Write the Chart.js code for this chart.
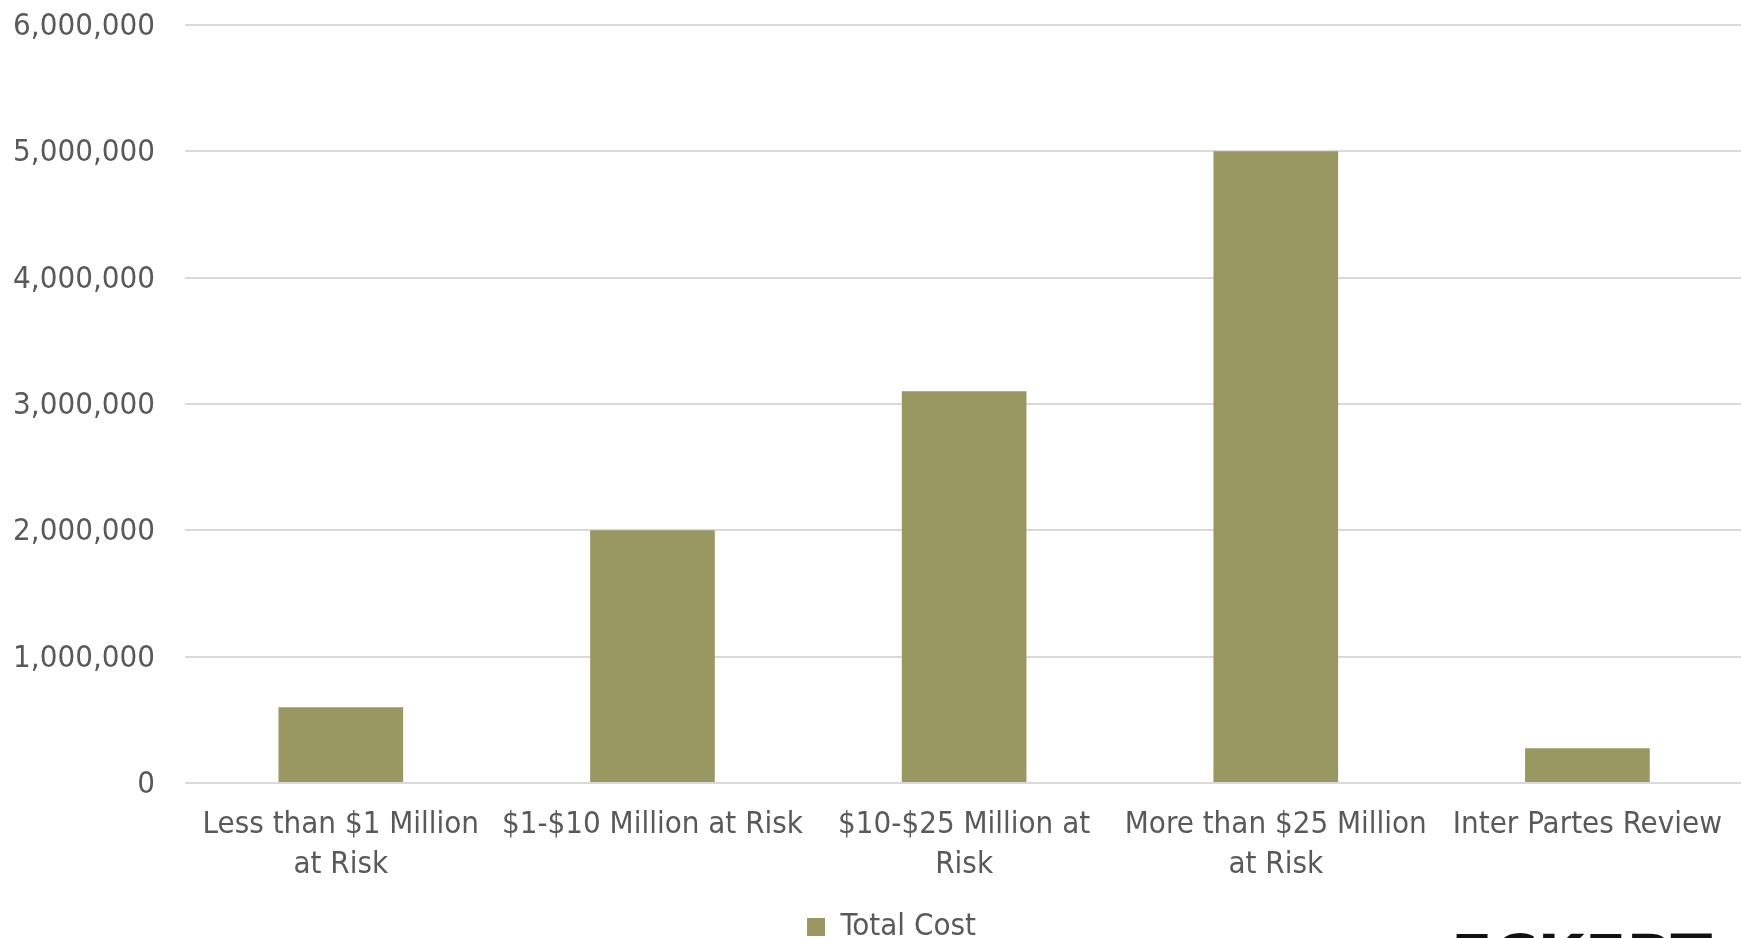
<!DOCTYPE html>
<html>
<head>
<meta charset="utf-8">
<title>Total Cost</title>
<script src="https://cdn.jsdelivr.net/npm/chart.js@4/dist/chart.umd.min.js"></script>
<style>
  html, body { margin: 0; padding: 0; background: #ffffff; overflow: hidden; }
  #wrap { position: absolute; left: 0; top: 0; width: 1744px; height: 938px; }
</style>
</head>
<body>
<div id="wrap"><canvas id="chart"></canvas></div>
<script>
// Category labels (already split into lines)
const categories = [
  ['Less than $1 Million', 'at Risk'],
  ['$1-$10 Million at Risk'],
  ['$10-$25 Million at', 'Risk'],
  ['More than $25 Million', 'at Risk'],
  ['Inter Partes Review']
];
// Total cost per category
const totalCost = [600000, 2000000, 3100000, 5000000, 275000];
const seriesName = 'Total Cost';
// Value axis range
const yMin = 0;
const yMax = 6000000;
const yStep = 1000000;

const FONT = '"DejaVu Sans Condensed", "Liberation Sans", sans-serif';
const TEXT = '#595959';
const GRID = '#d9d9d9';
const PLOT_TOP = 25;

// Firm mark in the lower right corner
const firmMark = {
  id: 'firmMark',
  afterDraw(chart) {
    const ctx = chart.ctx;
    ctx.save();
    ctx.fillStyle = '#111111';
    ctx.font = 'bold 61px "DejaVu Sans", sans-serif';
    ctx.textAlign = 'left';
    ctx.textBaseline = 'alphabetic';
    ctx.fillText('ECKERT', 1451, 978);
    ctx.restore();
  }
};

// Places the legend row under the category labels
const legendPlacement = {
  id: 'legendPlacement',
  afterLayout(chart) {
    const lg = chart.legend;
    if (!lg) return;
    const h = lg.height;
    lg.left = 0;
    lg.right = 1783;
    lg.top = 901.5;
    lg.bottom = lg.top + h;
  }
};

new Chart(document.getElementById('chart'), {
  type: 'bar',
  data: {
    labels: categories,
    datasets: [{
      label: seriesName,
      data: totalCost,
      backgroundColor: '#999762',
      borderWidth: 0,
      categoryPercentage: 1.0,
      barPercentage: 0.4
    }]
  },
  options: {
    responsive: true,
    maintainAspectRatio: false,
    animation: false,
    layout: { padding: { top: 0, left: 0, right: 0, bottom: 0 } },
    plugins: {
      title: { display: false },
      tooltip: { enabled: false },
      legend: {
        display: true,
        position: 'bottom',
        labels: {
          color: TEXT,
          font: { family: FONT, size: 31 },
          boxWidth: 18,
          boxHeight: 18,
          padding: 10
        }
      }
    },
    scales: {
      x: {
        grid: { display: false, drawTicks: false },
        border: { display: false },
        ticks: {
          color: TEXT,
          font: { family: FONT, size: 31, lineHeight: 1.3 },
          padding: 22,
          maxRotation: 0,
          autoSkip: false
        },
        afterFit(scale) { scale.height = 104; }
      },
      y: {
        min: yMin,
        max: yMax,
        grid: { color: GRID, lineWidth: 2, drawTicks: false },
        border: { display: false },
        ticks: {
          stepSize: yStep,
          color: TEXT,
          font: { family: FONT, size: 31 },
          padding: 30,
          labelOffset: 2,
          callback: (v) => Number(v).toLocaleString('en-US')
        },
        afterFit(scale) {
          scale.width = 185;
          scale.paddingTop = PLOT_TOP;
        }
      }
    }
  },
  plugins: [legendPlacement, firmMark]
});
</script>
</body>
</html>
